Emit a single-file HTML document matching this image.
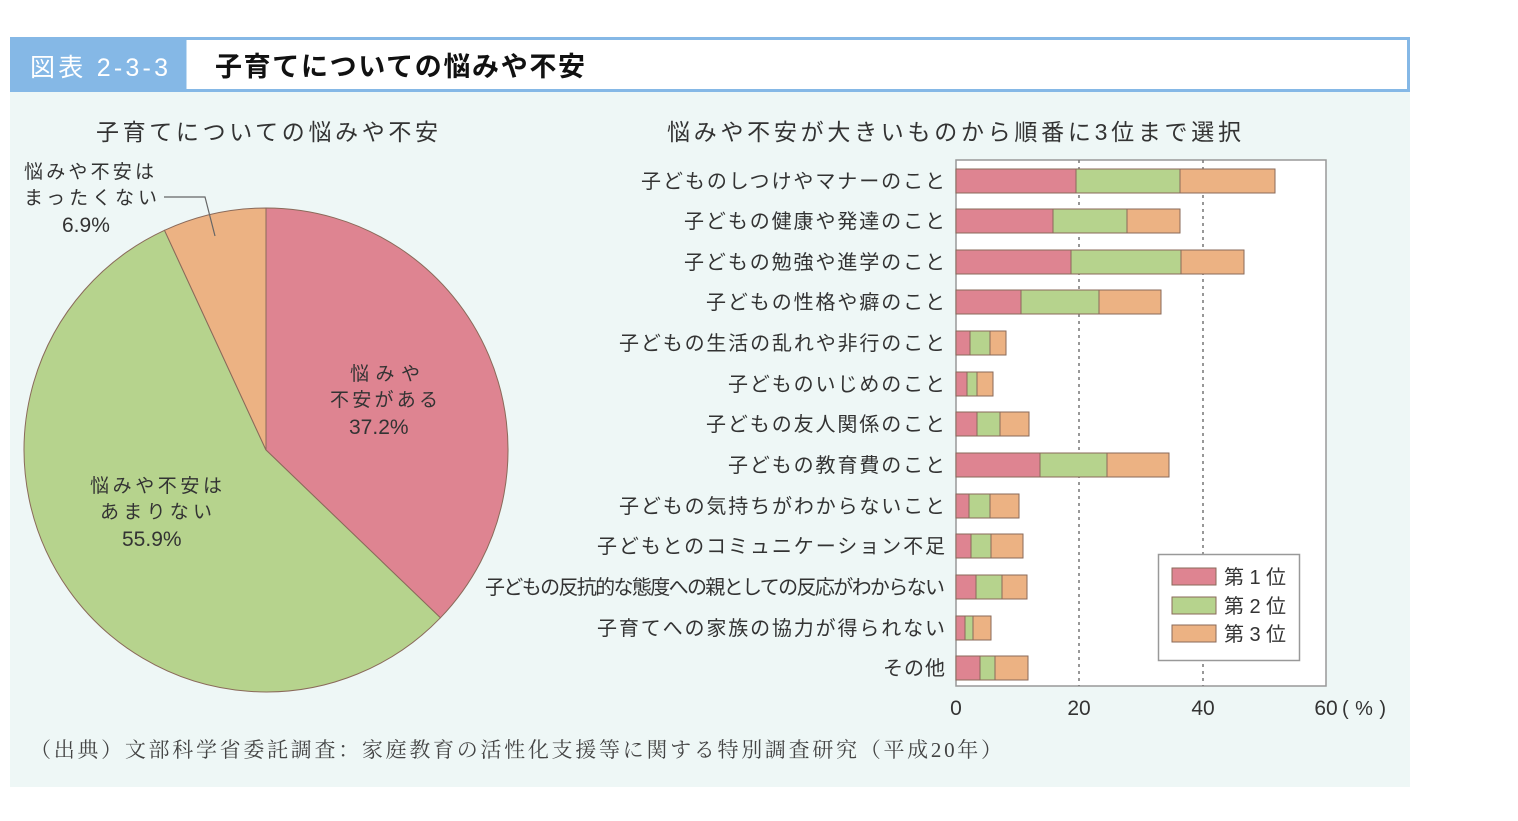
<!DOCTYPE html>
<html><head><meta charset="utf-8"><style>
html,body{margin:0;padding:0;background:#fff;}
svg{display:block;}
text{font-family:"Liberation Sans","Noto Sans CJK JP",sans-serif;fill:#333;}
</style></head><body>
<svg width="1518" height="821" viewBox="0 0 1518 821" xmlns="http://www.w3.org/2000/svg">
<rect x="10" y="92" width="1400" height="695" fill="#eef7f6"/>
<rect x="10" y="37" width="175" height="55" fill="#85b8e6"/>
<rect x="185" y="38.5" width="1223.5" height="52" fill="#fff" stroke="#85b8e6" stroke-width="3"/>
<text x="30" y="76" font-size="25" style="fill:#fff" textLength="138">図表 2-3-3</text>
<text x="215" y="76" font-size="27" font-weight="bold" style="fill:#111" textLength="370">子育てについての悩みや不安</text>

<text x="96" y="140" font-size="23" textLength="342">子育てについての悩みや不安</text>
<text x="667" y="140" font-size="23" textLength="574">悩みや不安が大きいものから順番に3位まで選択</text>

<!-- pie -->
<path d="M266,450 L266,208 A242,242 0 0 1 440.4,617.8 Z" fill="#de8491" stroke="#8a6a5a" stroke-width="1"/>
<path d="M266,450 L440.4,617.8 A242,242 0 1 1 164.5,230.3 Z" fill="#b6d38d" stroke="#8a6a5a" stroke-width="1"/>
<path d="M266,450 L164.5,230.3 A242,242 0 0 1 266,208 Z" fill="#ecb283" stroke="#8a6a5a" stroke-width="1"/>
<polyline points="164,197 205,197 215,236" fill="none" stroke="#666" stroke-width="1.2"/>
<g font-size="19">
<text x="24" y="178" textLength="130">悩みや不安は</text>
<text x="24" y="204" textLength="133">まったくない</text>
<text x="62" y="232" font-size="21">6.9%</text>
<text x="350" y="380" textLength="70">悩みや</text>
<text x="330" y="406" textLength="108">不安がある</text>
<text x="349" y="434" font-size="21">37.2%</text>
<text x="90" y="492" textLength="132">悩みや不安は</text>
<text x="100" y="518" textLength="112">あまりない</text>
<text x="122" y="546" font-size="21">55.9%</text>
</g>

<!-- bar chart -->
<rect x="956" y="160" width="370" height="526" fill="#fff" stroke="#999" stroke-width="1.5"/>
<line x1="1079" y1="160" x2="1079" y2="686" stroke="#777" stroke-width="1.5" stroke-dasharray="3,4"/>
<line x1="1203" y1="160" x2="1203" y2="686" stroke="#777" stroke-width="1.5" stroke-dasharray="3,4"/>
<g stroke="#8a6a5a" stroke-width="1">
<g transform="translate(0,169)"><rect x="956" width="120" height="24" fill="#de8491"/><rect x="1076" width="104" height="24" fill="#b6d38d"/><rect x="1180" width="95" height="24" fill="#ecb283"/></g>
<g transform="translate(0,209)"><rect x="956" width="97" height="24" fill="#de8491"/><rect x="1053" width="74" height="24" fill="#b6d38d"/><rect x="1127" width="53" height="24" fill="#ecb283"/></g>
<g transform="translate(0,250)"><rect x="956" width="115" height="24" fill="#de8491"/><rect x="1071" width="110" height="24" fill="#b6d38d"/><rect x="1181" width="63" height="24" fill="#ecb283"/></g>
<g transform="translate(0,290)"><rect x="956" width="65" height="24" fill="#de8491"/><rect x="1021" width="78" height="24" fill="#b6d38d"/><rect x="1099" width="62" height="24" fill="#ecb283"/></g>
<g transform="translate(0,331)"><rect x="956" width="14" height="24" fill="#de8491"/><rect x="970" width="20" height="24" fill="#b6d38d"/><rect x="990" width="16" height="24" fill="#ecb283"/></g>
<g transform="translate(0,372)"><rect x="956" width="11" height="24" fill="#de8491"/><rect x="967" width="10" height="24" fill="#b6d38d"/><rect x="977" width="16" height="24" fill="#ecb283"/></g>
<g transform="translate(0,412)"><rect x="956" width="21" height="24" fill="#de8491"/><rect x="977" width="23" height="24" fill="#b6d38d"/><rect x="1000" width="29" height="24" fill="#ecb283"/></g>
<g transform="translate(0,453)"><rect x="956" width="84" height="24" fill="#de8491"/><rect x="1040" width="67" height="24" fill="#b6d38d"/><rect x="1107" width="62" height="24" fill="#ecb283"/></g>
<g transform="translate(0,494)"><rect x="956" width="13" height="24" fill="#de8491"/><rect x="969" width="21" height="24" fill="#b6d38d"/><rect x="990" width="29" height="24" fill="#ecb283"/></g>
<g transform="translate(0,534)"><rect x="956" width="15" height="24" fill="#de8491"/><rect x="971" width="20" height="24" fill="#b6d38d"/><rect x="991" width="32" height="24" fill="#ecb283"/></g>
<g transform="translate(0,575)"><rect x="956" width="20" height="24" fill="#de8491"/><rect x="976" width="26" height="24" fill="#b6d38d"/><rect x="1002" width="25" height="24" fill="#ecb283"/></g>
<g transform="translate(0,616)"><rect x="956" width="9" height="24" fill="#de8491"/><rect x="965" width="8" height="24" fill="#b6d38d"/><rect x="973" width="18" height="24" fill="#ecb283"/></g>
<g transform="translate(0,656)"><rect x="956" width="24" height="24" fill="#de8491"/><rect x="980" width="15" height="24" fill="#b6d38d"/><rect x="995" width="33" height="24" fill="#ecb283"/></g>
</g>
<g font-size="20" text-anchor="end">
<text x="945" y="188" textLength="304">子どものしつけやマナーのこと</text>
<text x="945" y="228" textLength="261">子どもの健康や発達のこと</text>
<text x="945" y="269" textLength="261">子どもの勉強や進学のこと</text>
<text x="945" y="309" textLength="239">子どもの性格や癖のこと</text>
<text x="945" y="350" textLength="326">子どもの生活の乱れや非行のこと</text>
<text x="945" y="391" textLength="217">子どものいじめのこと</text>
<text x="945" y="431" textLength="239">子どもの友人関係のこと</text>
<text x="945" y="472" textLength="217">子どもの教育費のこと</text>
<text x="945" y="513" textLength="326">子どもの気持ちがわからないこと</text>
<text x="945" y="553" textLength="348">子どもとのコミュニケーション不足</text>
<text x="945" y="594" textLength="460">子どもの反抗的な態度への親としての反応がわからない</text>
<text x="945" y="635" textLength="348">子育てへの家族の協力が得られない</text>
<text x="945" y="675" textLength="62">その他</text>
</g>
<g font-size="21" text-anchor="middle">
<text x="956" y="715">0</text>
<text x="1079" y="715">20</text>
<text x="1203" y="715">40</text>
<text x="1326" y="715">60</text>
</g>
<text x="1342" y="715" font-size="20" textLength="44">(%)</text>

<rect x="1158.5" y="554.5" width="141" height="106" fill="#fff" stroke="#999" stroke-width="1.5"/>
<g stroke="#8a6a5a" stroke-width="1">
<rect x="1172" y="568" width="44" height="17" fill="#de8491"/>
<rect x="1172" y="597" width="44" height="17" fill="#b6d38d"/>
<rect x="1172" y="625" width="44" height="17" fill="#ecb283"/>
</g>
<g font-size="20">
<text x="1224" y="584" textLength="62">第 1 位</text>
<text x="1224" y="613" textLength="62">第 2 位</text>
<text x="1224" y="641" textLength="62">第 3 位</text>
</g>

<text x="30" y="757" font-size="21" style="font-family:'Liberation Serif','Noto Serif CJK SC',serif;fill:#444" textLength="972">（出典）文部科学省委託調査：家庭教育の活性化支援等に関する特別調査研究（平成20年）</text>
</svg>
</body></html>
